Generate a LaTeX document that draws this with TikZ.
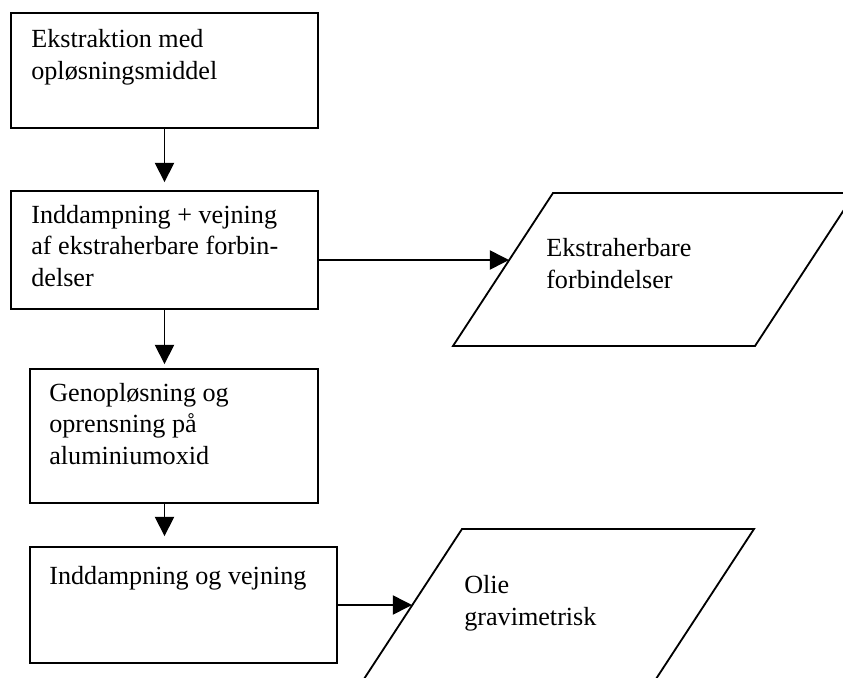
\documentclass[tikz,border=0pt]{standalone}
\usepackage{fontspec}
\setmainfont{Liberation Serif}
\usetikzlibrary{positioning,arrows.meta}
\tikzset{
  procbox/.style ={rectangle,draw,line width=1.3pt,inner sep=0pt},
  iobox/.style   ={draw,line width=1.3pt,line join=miter},
  boxtext/.style ={anchor=base west,inner sep=0pt,align=left,
                   font=\fontsize{18.6}{22.2}\selectfont},
  flow/.style    ={-{Triangle[length=4.8mm,width=4.8mm]},line width=1.1pt},
}
\begin{document}
\begin{tikzpicture}[x=0.025cm,y=-0.025cm]
  \useasboundingbox (0,0) rectangle (843,678);
  \clip (0,0) rectangle (843,678);
  \node[procbox,minimum width=7.675cm,minimum height=2.875cm] (extract) at (164.5,70.5) {};
  \node[procbox,minimum width=7.675cm,minimum height=2.95cm] (evap) at (164.5,250) {};
  \node[procbox,minimum width=7.2cm,minimum height=3.35cm] (clean) at (174,436) {};
  \node[procbox,minimum width=7.675cm,minimum height=2.9cm] (weigh) at (183.5,605) {};
  % parallelograms
  \draw[iobox] (553,193) -- (855,193) -- (755,346) -- (453,346) -- cycle;
  \draw[iobox] (462,529) -- (754,529) -- (654,682) -- (362,682) -- cycle;
  % texts (base = last line)
  \node[boxtext] (extract-t) at ([shift={(21,67)}]extract.north west) {Ekstraktion med\\opløsningsmiddel};
  \node[boxtext] (evap-t) at ([shift={(21,96)}]evap.north west) {Inddampning + vejning\\af ekstraherbare forbin-\\delser};
  \node[boxtext] (clean-t) at ([shift={(20,96)}]clean.north west) {Genopløsning og\\oprensning på\\aluminiumoxid};
  \node[boxtext] (weigh-t) at ([shift={(20,38)}]weigh.north west) {Inddampning og vejning};
  \node[boxtext] (extr-t) at (546,288) {Ekstraherbare\\forbindelser};
  \node[boxtext] (oil-t) at (464,625) {Olie\\gravimetrisk};
  % connectors
  \coordinate (extr-in) at (509,260);
  \coordinate (oil-in) at (412,605);
  \draw[flow,shorten >=2mm] (extract) -- (evap);
  \draw[flow,shorten >=1mm] (evap.south) -- (evap.south |- clean.north);
  \draw[flow,shorten >=2.5mm] (evap.south |- clean.south) -- (evap.south |- weigh.north);
  \draw[flow] (extr-in -| evap.east) -- (extr-in);
  \draw[flow] (weigh.east) -- (oil-in);
\end{tikzpicture}
\end{document}
